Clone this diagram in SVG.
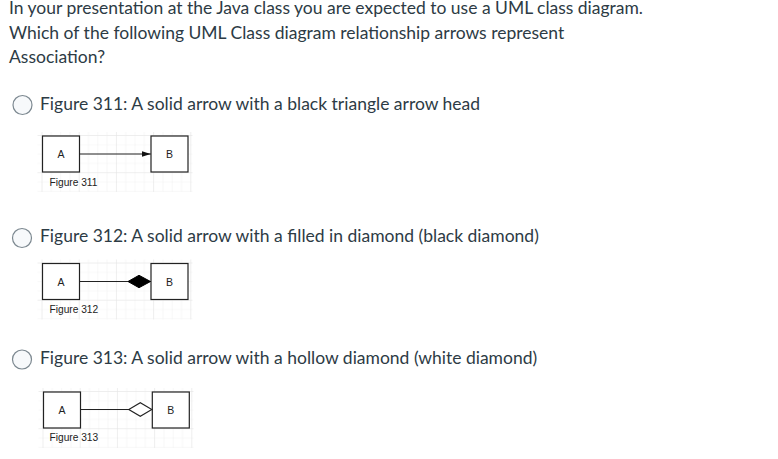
<svg xmlns="http://www.w3.org/2000/svg" width="778" height="459" viewBox="0 0 778 459">
<style>
.q{font-family:Lato,"Open Sans","Noto Sans",sans-serif;font-size:17.5px;fill:#2d3b45}
.radio{fill:#f7f9fb;stroke:#7c8890;stroke-width:1.2}
.box{fill:#ffffff;stroke:#222;stroke-width:1.2}
.bl{font-family:"Liberation Sans",Arial,sans-serif;font-size:10.5px;fill:#222;text-anchor:middle}
.cap{font-family:"Liberation Sans",Arial,sans-serif;font-size:10.2px;fill:#222}
.edge{stroke:#222;stroke-width:1.1;fill:none}
.gridbg{fill:url(#grid)}
</style>
<defs>
<pattern id="gminor" width="9.3" height="9.3" patternUnits="userSpaceOnUse">
<path d="M9.3 0V9.3M0 9.3H9.3" fill="none" stroke="#f1f1f1" stroke-width="1"/>
</pattern>
<pattern id="grid" width="37.2" height="37.2" patternUnits="userSpaceOnUse">
<rect width="37.2" height="37.2" fill="url(#gminor)"/>
<path d="M37.2 0V37.2M0 37.2H37.2" fill="none" stroke="#e4e4e4" stroke-width="1"/>
</pattern>
<marker id="tri" markerUnits="userSpaceOnUse" markerWidth="10" markerHeight="8" refX="9" refY="4" orient="auto">
<path d="M0 1.2L9 4L0 6.8Z" fill="#111"/>
</marker>
<marker id="dfill" markerUnits="userSpaceOnUse" markerWidth="24" markerHeight="14" refX="23" refY="7" orient="auto">
<path d="M0.5 7L11.5 0.8L23 7L11.5 13.2Z" fill="#000" stroke="#000" stroke-width="1"/>
</marker>
<marker id="dhollow" markerUnits="userSpaceOnUse" markerWidth="26" markerHeight="16" refX="24" refY="8" orient="auto">
<path d="M1 8L12.5 1.2L24 8L12.5 14.8Z" fill="#fff" stroke="#222" stroke-width="1.1"/>
</marker>
</defs>
<rect width="778" height="459" fill="#ffffff"/>

<g id="question">
<text class="q" x="9" y="14" textLength="634" lengthAdjust="spacingAndGlyphs">In your presentation at the Java class you are expected to use a UML class diagram.</text>
<text class="q" x="9" y="38.5">Which of the following UML Class diagram relationship arrows represent</text>
<text class="q" x="9" y="63">Association?</text>
</g>

<g id="option1">
<circle class="radio" cx="22.5" cy="105" r="9.5"/>
<text class="q" x="40" y="110">Figure 311: A solid arrow with a black triangle arrow head</text>
</g>
<g id="option2">
<circle class="radio" cx="22" cy="238" r="9.5"/>
<text class="q" x="40" y="242">Figure 312: A solid arrow with a filled in diamond (black diamond)</text>
</g>
<g id="option3">
<circle class="radio" cx="22" cy="359.5" r="9.5"/>
<text class="q" x="40" y="364">Figure 313: A solid arrow with a hollow diamond (white diamond)</text>
</g>

<!-- Figure 311 -->
<g transform="translate(42.5 136)">
<rect class="gridbg" x="-5" y="-4" width="155" height="60"/>
<g id="fig311-A"><rect class="box" x="0" y="0" width="37" height="36"/><text class="bl" x="18.5" y="22">A</text></g>
<g id="fig311-B"><rect class="box" x="108.5" y="0" width="37" height="36"/><text class="bl" x="127" y="22">B</text></g>
<g id="fig311-connectors"><path class="edge" d="M37 18H108.3" marker-end="url(#tri)"/></g>
<text class="cap" x="7" y="49.5">Figure 311</text>
</g>

<!-- Figure 312 -->
<g transform="translate(42.5 263.5)">
<rect class="gridbg" x="-5" y="-4" width="155" height="60"/>
<g id="fig312-A"><rect class="box" x="0" y="0" width="37" height="36"/><text class="bl" x="18.5" y="22">A</text></g>
<g id="fig312-B"><rect class="box" x="108.5" y="0" width="37" height="36"/><text class="bl" x="127" y="22">B</text></g>
<g id="fig312-connectors"><path class="edge" d="M37 18H108" marker-end="url(#dfill)"/></g>
<text class="cap" x="7" y="49">Figure 312</text>
</g>

<!-- Figure 313 -->
<g transform="translate(43.5 392)">
<rect class="gridbg" x="-5" y="-4" width="155" height="60"/>
<g id="fig313-A"><rect class="box" x="0" y="0" width="37" height="36"/><text class="bl" x="18.5" y="22">A</text></g>
<g id="fig313-B"><rect class="box" x="108.8" y="0" width="37" height="36"/><text class="bl" x="127.3" y="22">B</text></g>
<g id="fig313-connectors"><path class="edge" d="M37 17.5H108.3" marker-end="url(#dhollow)"/></g>
<text class="cap" x="6" y="49">Figure 313</text>
</g>
</svg>
